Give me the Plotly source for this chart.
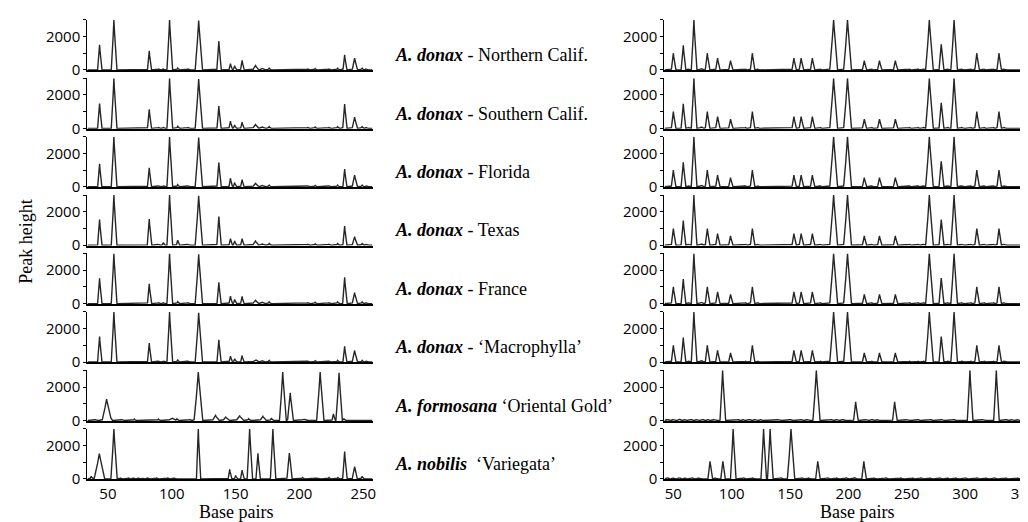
import numpy as np
import plotly.graph_objects as go

# ---------------- DATA (peak positions in base pairs, peak heights) ----------------
row_labels = [
    "<b><i>A. donax</i></b> - Northern Calif.",
    "<b><i>A. donax</i></b> - Southern Calif.",
    "<b><i>A. donax</i></b> - Florida",
    "<b><i>A. donax</i></b> - Texas",
    "<b><i>A. donax</i></b> - France",
    "<b><i>A. donax</i></b> - \u2018Macrophylla\u2019",
    "<b><i>A. formosana</i></b> \u2018Oriental Gold\u2019",
    "<b><i>A. nobilis</i></b>  \u2018Variegata\u2019",
]

left_ticks = [50, 100, 150, 200, 250]
right_ticks = [50, 100, 150, 200, 250, 300, 350]
left_range = [34, 257.2]
right_range = [42.4, 354.7]

# Left panel, A. donax accessions (shared peak positions); widths 0 = default
donax_left_bp = [43.5, 54.7, 82.4, 89.5, 93.5, 98.3, 104.7, 112.5, 121.1, 136.9, 146.0,
                 149.3, 155.1, 165.6, 170.5, 176.3, 206.4, 212.3, 222.9, 229.9, 235.4,
                 243.2, 249.1, 252.3]
donax_left_w = [0, 0, 0, 0, 0, 0, 0, 0, 2.8, 0, 0, 0, 0, 2.4, 2.4, 0, 0, 0, 0, 0, 0,
                2.0, 0, 0]
ncal_left_h = [1510, 3000, 1140, 50, 60, 3000, 110, 50, 2950, 1720, 370, 250, 570, 260,
               110, 100, 50, 80, 50, 100, 900, 700, 100, 60]
scal_left_h = [1490, 3000, 1140, 50, 60, 3000, 120, 50, 2950, 1330, 430, 200, 370, 230,
               100, 100, 50, 80, 50, 100, 1450, 670, 100, 60]
florida_left_h = [1370, 3000, 1140, 50, 60, 3000, 130, 50, 2950, 1450, 510, 250, 430, 200,
                  100, 100, 50, 80, 50, 100, 1060, 700, 100, 60]
texas_left_h = [1530, 3000, 1570, 60, 150, 3000, 300, 60, 2950, 1720, 390, 250, 390, 250,
                100, 100, 50, 80, 50, 100, 1140, 510, 100, 60]
france_left_h = [1510, 3000, 1180, 50, 60, 3000, 120, 50, 2950, 1270, 450, 250, 430, 200,
                 100, 100, 50, 80, 50, 100, 1570, 650, 100, 60]
macro_left_h = [1530, 3000, 1140, 50, 60, 3000, 120, 50, 2950, 1330, 350, 200, 390, 150,
                100, 100, 50, 80, 50, 100, 940, 690, 100, 60]

# Left panel, A. formosana
formosana_left_bp = [40.4, 49.0, 52.1, 61.2, 70.8, 79.3, 89.7, 100.1, 104.0, 114.0, 117.0,
                     120.8, 134.3, 142.3, 153.2, 160.2, 171.4, 178.1, 186.9, 192.8, 203.3,
                     216.2, 226.6, 231.0, 234.8]
formosana_left_h = [60, 1280, 200, 60, 80, 40, 80, 150, 100, 50, 50, 2900, 300, 200, 270,
                    100, 250, 150, 2900, 1650, 80, 2900, 390, 2850, 100]
formosana_left_w = [0, 3.6, 0, 0, 0, 0, 0, 3.0, 0, 0, 0, 3.4, 2.6, 2.6, 3.0, 0, 2.4, 0,
                    2.6, 2.2, 2.6, 2.8, 0, 2.5, 0]

# Left panel, A. nobilis
nobilis_left_bp = [37.0, 43.3, 54.7, 60.0, 66.0, 70.0, 74.0, 77.0, 81.2, 88.0, 96.7, 102.0,
                   120.8, 145.4, 150.1, 155.1, 161.0, 167.5, 179.2, 192.1, 202.5, 212.3,
                   223.2, 230.2, 235.4, 243.2, 249.1]
nobilis_left_h = [150, 1510, 3000, 60, 50, 60, 60, 50, 70, 50, 50, 60, 3000, 570, 200, 530,
                  3000, 1530, 3000, 1550, 80, 60, 80, 80, 1630, 730, 150]
nobilis_left_w = [0, 4.2, 2.4, 0, 0, 0, 0, 0, 0, 0, 0, 0, 1.5, 0, 0, 0, 2.0, 0, 2.0, 2.0,
                  0, 3.0, 0, 0, 0, 2.0, 0]

# Right panel, A. donax accessions (profiles are identical)
donax_right_bp = [50.0, 58.5, 63.0, 67.6, 74.0, 79.1, 87.9, 99.0, 111.7, 117.7, 122.4,
                  139.1, 153.3, 159.5, 169.1, 175.9, 187.3, 199.2, 213.6, 220.0, 226.6,
                  233.6, 240.2, 252.3, 259.7, 264.5, 269.3, 279.5, 285.1, 290.5, 297.0,
                  304.9, 310.0, 316.3, 324.2, 329.0, 333.3, 345.2, 352.2]
donax_right_h = [1000, 1470, 60, 3000, 100, 1000, 700, 550, 50, 1000, 50, 40, 700, 700,
                 700, 50, 3000, 3000, 550, 50, 550, 40, 550, 50, 50, 60, 3000, 1530, 60,
                 3000, 60, 50, 1000, 50, 50, 1000, 60, 40, 40]
donax_right_w = [0, 0, 0, 0, 0, 0, 0, 0, 0, 0, 0, 0, 0, 0, 0, 0, 3.4, 3.4, 0, 0, 0, 0, 0,
                 0, 0, 0, 3.2, 0, 0, 2.8, 0, 0, 0, 0, 0, 0, 0, 0, 0]

# Right panel, A. formosana
formosana_right_bp = [45, 50, 55, 60, 65, 70, 75, 80, 85, 92.2, 105, 110, 115, 120, 125,
                      140, 150, 160, 165, 172.5, 185, 190, 195, 206.2, 215, 220, 225, 239.6,
                      250, 260, 270, 280, 290, 304.1, 315, 326.7, 335, 340, 345, 350]
formosana_right_h = [80, 60, 90, 50, 70, 60, 80, 50, 60, 3000, 70, 50, 80, 60, 50, 60, 70,
                     50, 60, 3000, 80, 60, 70, 1120, 60, 80, 50, 1120, 60, 50, 70, 60, 80,
                     3000, 60, 3000, 70, 60, 50, 60]
formosana_right_w = [0] * 19 + [3.0] + [0] * 20

# Right panel, A. nobilis
nobilis_right_bp = [45, 50, 55, 60, 66, 72, 81.4, 86, 92.4, 101.2, 110, 118, 127.3, 132.9,
                    142, 150.8, 160, 166, 173.7, 182, 190, 198, 205, 213.2, 222, 232, 245,
                    255, 262, 270, 278, 285, 292, 300, 310, 318, 325, 335, 345, 352]
nobilis_right_h = [80, 60, 70, 50, 80, 60, 1050, 60, 1050, 3000, 80, 60, 3000, 3000, 70,
                   3000, 80, 60, 1050, 70, 60, 80, 90, 1050, 60, 70, 60, 50, 70, 60, 80, 50,
                   60, 70, 80, 60, 70, 50, 60, 50]
nobilis_right_w = [0] * 15 + [3.2] + [0] * 24

left_series = [
    (donax_left_bp, ncal_left_h, donax_left_w),
    (donax_left_bp, scal_left_h, donax_left_w),
    (donax_left_bp, florida_left_h, donax_left_w),
    (donax_left_bp, texas_left_h, donax_left_w),
    (donax_left_bp, france_left_h, donax_left_w),
    (donax_left_bp, macro_left_h, donax_left_w),
    (formosana_left_bp, formosana_left_h, formosana_left_w),
    (nobilis_left_bp, nobilis_left_h, nobilis_left_w),
]
right_series = [(donax_right_bp, donax_right_h, donax_right_w)] * 6 + [
    (formosana_right_bp, formosana_right_h, formosana_right_w),
    (nobilis_right_bp, nobilis_right_h, nobilis_right_w),
]


# ---------------- rendering helpers ----------------
def trace_profile(bp, h, w, xr, base_w, slope_w):
    """Build a continuous trace as the upper envelope of narrow peaks."""
    xs = np.arange(xr[0], xr[1] + 0.1, 0.1)
    ys = np.zeros_like(xs)
    for i, (p, hh) in enumerate(zip(bp, h)):
        hw = (w[i] if (w is not None and w[i]) else base_w + slope_w * hh / 3000.0)
        tri = hh * np.clip(1 - np.abs(xs - p) / hw, 0, None) ** 1.2
        ys = np.maximum(ys, tri)
    return xs, ys


W, H = 1028, 522
baseline_px = [63 + 59.45 * i for i in range(8)]
YR = [-25, 3000]
px_per_unit = 51.0 / 3000.0

line_col = "#262626"
sans = "Open Sans, Lato, sans-serif"
serif = "Liberation Serif, DejaVu Serif, serif"

fig = go.Figure()
layout = dict(
    width=W, height=H, autosize=False,
    margin=dict(l=0, r=0, t=0, b=0),
    paper_bgcolor="white", plot_bgcolor="white",
    showlegend=False,
)

for i in range(8):
    B = baseline_px[i]
    bot = B + (0 - YR[0]) * px_per_unit
    top = B - 3000 * px_per_unit
    ydom = [1 - bot / H, 1 - top / H]
    for c in range(2):
        idx = i * 2 + c + 1
        xa = "x" if idx == 1 else f"x{idx}"
        ya = "y" if idx == 1 else f"y{idx}"
        if c == 0:
            bp, h, w = left_series[i]
            xr, ticks, xdom = left_range, left_ticks, [80 / W, 367 / W]
            xs, ys = trace_profile(bp, h, w, xr, 1.1, 1.0)
        else:
            bp, h, w = right_series[i]
            xr, ticks, xdom = right_range, right_ticks, [661 / W, 1.0]
            xs, ys = trace_profile(bp, h, w, xr, 1.6, 0.7)
        fig.add_trace(go.Scatter(x=xs, y=ys, mode="lines", xaxis=xa, yaxis=ya,
                                 line=dict(color=line_col, width=1.4),
                                 hoverinfo="skip"))
        kx = "xaxis" if idx == 1 else f"xaxis{idx}"
        ky = "yaxis" if idx == 1 else f"yaxis{idx}"
        layout[kx] = dict(
            domain=xdom, range=xr, anchor=ya,
            showline=True, linecolor="black", linewidth=1.8,
            showgrid=False, zeroline=False, ticks="",
            tickvals=ticks, showticklabels=(i == 7),
            ticklabeloverflow="allow",
            tickfont=dict(family=sans, size=15, color="black"),
        )
        layout[ky] = dict(
            domain=ydom, range=YR, anchor=xa,
            showline=True, linecolor="black", linewidth=1.4,
            showgrid=False, zeroline=False,
            ticks="outside", ticklen=3, tickwidth=1.2, tickcolor="black",
            tickvals=[0, 1000, 2000, 3000], ticktext=["0", "", "2000", ""],
            tickfont=dict(family=sans, size=15, color="black"),
        )

annotations = []
for i, lab in enumerate(row_labels):
    annotations.append(dict(
        text=lab, xref="paper", yref="paper", x=388 / W, y=1 - (baseline_px[i] - 15) / H,
        xanchor="left", yanchor="middle", showarrow=False,
        font=dict(family=serif, size=18, color="black"),
    ))
annotations.append(dict(text="Base pairs", xref="paper", yref="paper",
                        x=230 / W, y=1 - 513 / H, xanchor="center", yanchor="middle",
                        showarrow=False, font=dict(family=serif, size=18, color="black")))
annotations.append(dict(text="Base pairs", xref="paper", yref="paper",
                        x=855 / W, y=1 - 513 / H, xanchor="center", yanchor="middle",
                        showarrow=False, font=dict(family=serif, size=18, color="black")))
annotations.append(dict(text="Peak height", xref="paper", yref="paper",
                        x=18 / W, y=1 - 238 / H, xanchor="center", yanchor="middle",
                        textangle=-90, showarrow=False,
                        font=dict(family=serif, size=18, color="black")))
layout["annotations"] = annotations

fig.update_layout(**layout)
fig.write_html("out.html")
